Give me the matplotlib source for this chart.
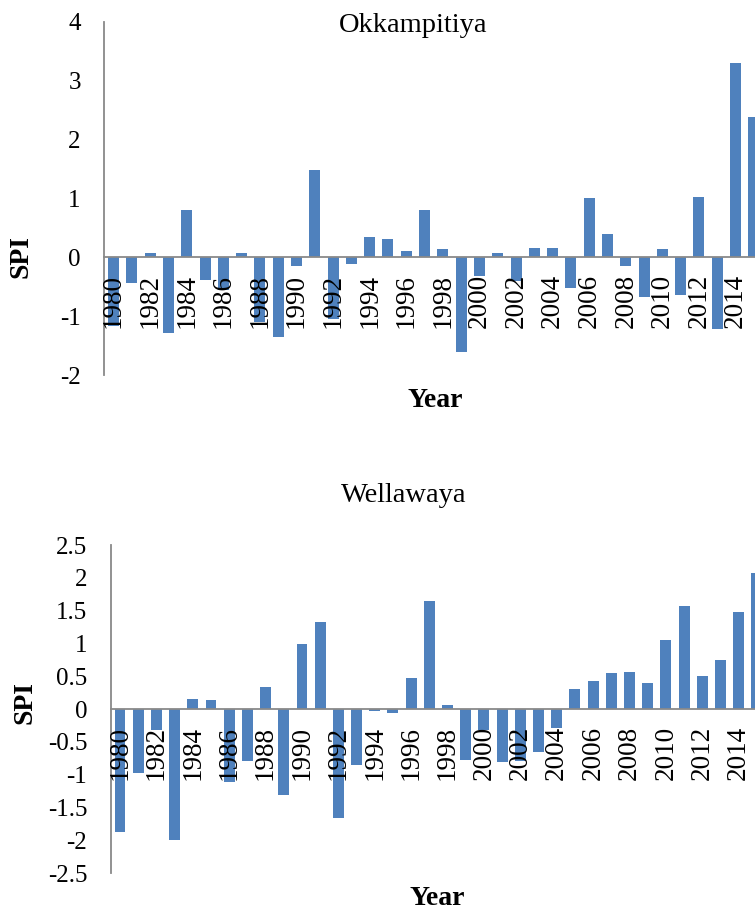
import matplotlib
matplotlib.use("Agg")
import matplotlib.pyplot as plt

# ==========================
# data (SPI per year)
# ==========================

years = list(range(1980, 2016))

okkampitiya_spi = [
    -1.17, -0.43, 0.07, -1.28, 0.80, -0.38, -0.55, 0.08, -1.10, -1.36,
    -0.15, 1.48, -1.04, -0.12, 0.34, 0.31, 0.10, 0.81, 0.15, -1.61,
    -0.31, 0.08, -0.41, 0.16, 0.16, -0.52, 1.01, 0.40, -0.15, -0.67,
    0.14, -0.64, 1.03, -1.21, 3.30, 2.39,
]

wellawaya_spi = [
    -1.87, -0.97, -0.32, -2.00, 0.15, 0.14, -1.11, -0.80, 0.34, -1.31,
    0.99, 1.33, -1.66, -0.86, -0.03, -0.06, 0.48, 1.65, 0.06, -0.77,
    -0.32, -0.81, -0.80, -0.65, -0.29, 0.31, 0.42, 0.55, 0.56, 0.40,
    1.05, 1.57, 0.50, 0.74, 1.48, 2.08,
]

top_yticks = [-2, -1, 0, 1, 2, 3, 4]
bottom_yticks = [-2.5, -2, -1.5, -1, -0.5, 0, 0.5, 1, 1.5, 2, 2.5]
bottom_yticklabels = ["-2.5", "-2", "-1.5", "-1", "-0.5", "0", "0.5",
                      "1", "1.5", "2", "2.5"]

# ==========================
# style
# ==========================

plt.rcParams["font.family"] = ["Liberation Serif", "DejaVu Serif"]
bar_color = "#4F81BD"
axis_color = "#898989"

W, H = 755, 910
fig = plt.figure(figsize=(W / 100, H / 100), dpi=100)


def draw_panel(rect, values, yticks, yticklabels, ylim, title, title_xy,
               ylabel_xy, xlabel_xy):
    ax = fig.add_axes(rect)
    x = list(range(len(years)))
    ax.bar(x, values, width=0.6, color=bar_color, zorder=1)
    ax.set_xlim(-0.5, len(years) - 0.5)
    ax.set_ylim(*ylim)

    ax.spines["top"].set_visible(False)
    ax.spines["right"].set_visible(False)
    ax.spines["bottom"].set_position(("data", 0))
    for s in ("left", "bottom"):
        ax.spines[s].set_color(axis_color)
        ax.spines[s].set_linewidth(1.3)
        ax.spines[s].set_zorder(3)

    ax.set_yticks(yticks)
    ax.set_yticklabels(yticklabels, fontsize=18)
    ax.tick_params(axis="y", length=0, pad=17)

    even = [i for i, y in enumerate(years) if y % 2 == 0]
    ax.set_xticks(even)
    ax.set_xticklabels([str(years[i]) for i in even], rotation=90,
                       fontsize=19.5, va="top", ha="center")
    ax.tick_params(axis="x", length=0, pad=12)
    ax.xaxis.set_zorder(5)

    fig.text(title_xy[0] / W, 1 - title_xy[1] / H, title, fontsize=20.5,
             ha="center", va="baseline")
    fig.text(ylabel_xy[0] / W, 1 - ylabel_xy[1] / H, "SPI", fontsize=20,
             fontweight="bold", rotation=90, ha="center", va="center")
    fig.text(xlabel_xy[0] / W, 1 - xlabel_xy[1] / H, "Year", fontsize=20,
             fontweight="bold", ha="center", va="baseline")
    return ax


draw_panel([104.4 / W, 1 - 375 / H, (763 - 104.4) / W, (375 - 22) / H],
           okkampitiya_spi, top_yticks, [str(t) for t in top_yticks],
           (-2, 4), "Okkampitiya", (413, 32), (21, 257), (435, 407))

draw_panel([110.9 / W, 1 - 873 / H, (766 - 110.9) / W, (873 - 545) / H],
           wellawaya_spi, bottom_yticks, bottom_yticklabels,
           (-2.5, 2.5), "Wellawaya", (404, 502), (25, 703), (437, 905))

plt.savefig("out.png", dpi=100)
